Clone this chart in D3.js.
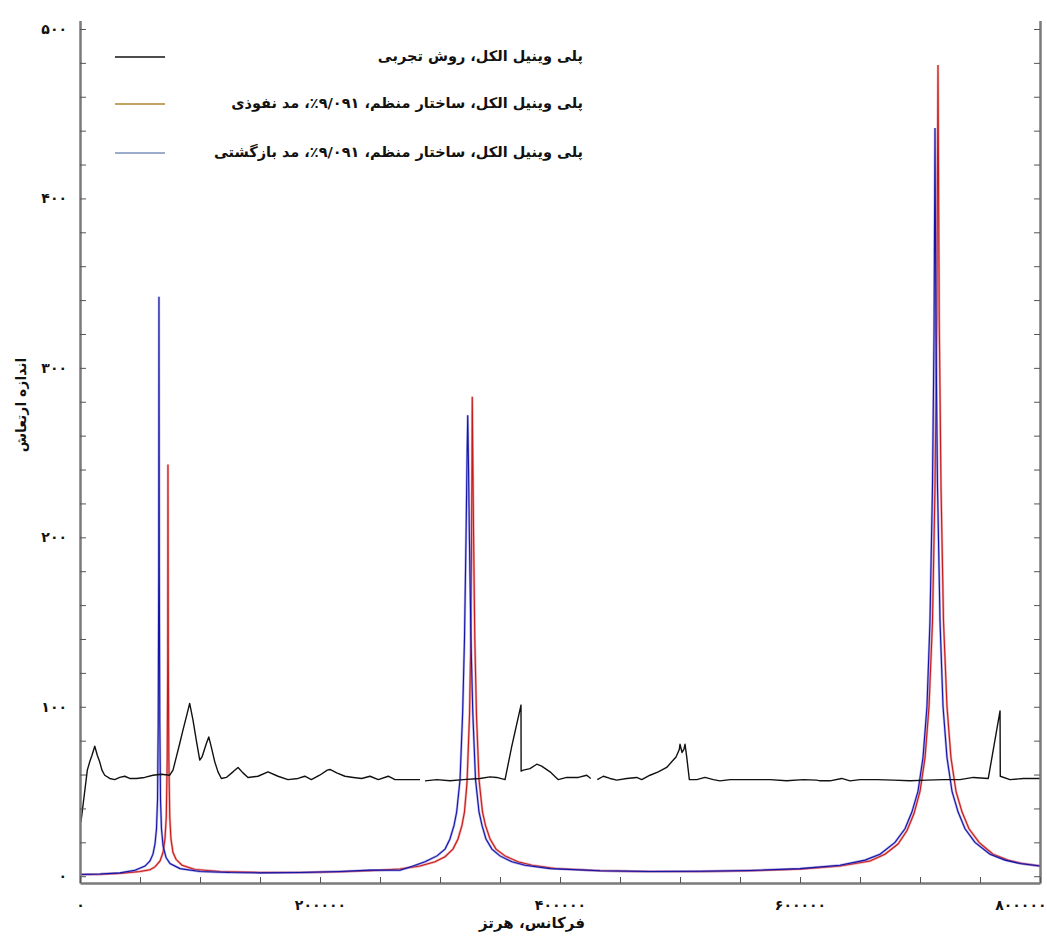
<!DOCTYPE html>
<html><head><meta charset="utf-8">
<script src="https://cdn.jsdelivr.net/npm/d3@7/dist/d3.min.js"></script>
<style>body{margin:0;background:#fff}svg{display:block}text{font-family:"DejaVu Sans",sans-serif;font-weight:bold}</style>
</head><body><svg id="c" width="1047" height="936"></svg>
<script>
// ---------- data ----------
const legendLabels = [
  "پلی وینیل الکل، روش تجربی",
  "پلی وینیل الکل، ساختار منظم، ۹/۰۹۱٪، مد نفوذی",
  "پلی وینیل الکل، ساختار منظم، ۹/۰۹۱٪، مد بازگشتی"
];
const xTitle = "فرکانس، هرتز";
const yTitle = "اندازه ارتعاش";
const xMajorTicks = [0, 200000, 400000, 600000, 800000];
const xTickLabels = ["۰", "۲۰۰۰۰۰", "۴۰۰۰۰۰", "۶۰۰۰۰۰", "۸۰۰۰۰۰"];
const yMajorTicks = [0, 100, 200, 300, 400, 500];
const yTickLabels = ["۰", "۱۰۰", "۲۰۰", "۳۰۰", "۴۰۰", "۵۰۰"];

// experimental (black) – null marks gaps
const expFreq = [800,6100,8100,10000,12300,14400,16400,18300,20600,24800,28900,33100,37300,41400,46900,53900,60800,67800,74800,77500,80300,83100,85800,88600,91400,94200,96900,99800,101700,105300,107300,109400,112300,115000,117800,121900,127500,131700,135800,140000,148300,156700,165000,173300,181700,187300,192800,199700,206100,208300,213900,220800,227800,234700,241700,248600,256900,262500,272300,283300,285000,287500,297300,308300,319400,333300,341700,347300,354200,359700,367500,367600,369400,375000,380600,384700,391700,398600,405600,415300,422300,425600,428000,431100,436100,441700,447300,455600,463900,468100,475000,481900,488900,493100,496700,499400,500000,501700,503300,504200,505600,507800,514000,520800,527800,533300,541700,561100,575000,588900,602800,613900,616700,625000,634700,641700,650000,663900,677800,691700,705600,719400,733300,744400,756900,766700,766900,775000,786100,800000];
const expVal = [32,62.6,67.5,71.4,76.7,71.4,67.5,62.6,59.6,57.7,57,58.3,59,57.7,57.7,58.3,59.6,60.2,59.6,62.6,70.4,78.3,86.2,94,102,92,80.3,68.5,70.4,78.3,82.2,76.3,67.5,61.6,57.7,58.3,61.6,64.2,61,58.3,59,61.6,59,57,57.7,59,57,59.6,62.6,63,61,59,58.3,57.7,59,57,59,57,57,57,null,56.3,57,56.3,57,57.7,58.6,58.3,57,76.3,101,62,62.6,63.5,66.1,65,61.6,57,58.3,58.3,59.6,57.7,null,57,59,57.7,56.7,57.7,58.3,57,59.6,61.6,64.2,67.5,70.4,74.8,77.9,73,75,77.9,70.4,57,57,58.3,57,56.3,57,57,57,56.3,57,56.7,56.3,56.3,57.7,56.3,57,57,56.7,56.3,56.7,57,57,58.3,57.7,97.6,59,57,57.7,57.7];

// ordered structure, penetrating mode (red)
const redFreq = [0,16700,33300,50000,58300,62500,66700,69200,70800,71900,72700,73100,73300,73600,74000,74800,75800,77500,80000,85000,95800,116700,150000,183300,216700,241700,266700,283300,295800,304200,310800,315000,318300,320400,322500,324600,325700,326300,326700,326900,327300,328000,329000,330400,332500,335400,337900,341700,346700,354200,365000,376700,395800,433300,475000,516700,558300,600000,633300,658300,670800,681700,689200,695000,700000,704200,707500,710400,712500,714000,715000,716000,717500,719600,722500,725800,730000,735000,740800,749200,760800,773300,785000,800000];
const redVal = [1.0,1.2,1.7,2.8,3.8,5.5,9,14,22,35,70,130,243,130,70,35,22,14,10,6.5,4,2.8,2.2,2.2,2.6,3.3,4.3,6,8.5,11.5,16,22,30,38,55,95,140,200,250,283,250,200,140,95,57,38,30,22,16,12,8.5,6.5,4.6,3.2,2.8,2.8,3.2,4.2,6,9,13,19,27,37,50,70,100,150,230,330,478.7,330,230,150,100,70,50,38,28,20,13,9.5,7.5,6];

// ordered structure, return mode (blue)
const blueFreq = [0,16700,33300,45800,54200,58300,60800,62500,63750,64600,65200,65600,65800,66100,66500,67100,67900,69200,71700,75000,83300,100000,125000,150000,183300,216700,241700,266700,277500,287500,297500,304200,308300,311700,313900,316700,318900,320400,321700,322500,323100,323700,324500,325800,327300,329600,332500,335000,338300,343300,350000,360000,370800,391700,433300,475000,516700,558300,600000,633300,654200,666700,679200,687500,693300,698300,702500,705800,708300,710400,711700,712500,713300,714600,716700,719200,722500,726700,731700,737500,745800,758300,770800,783300,800000];
const blueVal = [1.0,1.3,2.0,3.5,6,9,13,19,28,45,90,180,342,180,90,45,28,18,11,7.5,4.5,2.8,2.2,2.0,2.2,2.8,3.6,3.5,6,8.5,12,16,22,30,38,57,97,140,200,245,272,245,200,140,97,57,38,30,22,16,12,8.5,6.5,4.5,3.2,2.8,2.9,3.4,4.5,6.5,9.5,13,20,28,38,50,70,100,150,230,320,441.5,320,230,150,100,70,50,38,28,20,13,9.5,7.5,6];

// ---------- chart ----------
const svg = d3.select("#c");
svg.append("rect").attr("width",1047).attr("height",936).attr("fill","#fff");

const x = d3.scaleLinear().domain([0, 800000]).range([80, 1040]);
const y = d3.scaleLinear().domain([-4, 505]).range([883, 20.5]);

const xMinor = d3.range(0, 800001, 50000);
const yMinor = d3.range(0, 501, 20);

const g = svg.append("g");

// series
const line = d3.line().defined(d => d[1] !== null).x(d => x(d[0])).y(d => y(d[1]));
const zip = (a, b) => a.map((v, i) => [v, b[i]]);

g.append("path").datum(zip(redFreq, redVal)).attr("d", line)
  .attr("fill","none").attr("stroke","#e86060").attr("stroke-width",2.4).attr("opacity",0.55);
g.append("path").datum(zip(redFreq, redVal)).attr("d", line)
  .attr("fill","none").attr("stroke","#c41c1c").attr("stroke-width",1.1);
g.append("path").datum(zip(blueFreq, blueVal)).attr("d", line)
  .attr("fill","none").attr("stroke","#6a6ad8").attr("stroke-width",2.4).attr("opacity",0.5);
g.append("path").datum(zip(blueFreq, blueVal)).attr("d", line)
  .attr("fill","none").attr("stroke","#1414a8").attr("stroke-width",1.1);
g.append("path").datum(zip(expFreq, expVal)).attr("d", line)
  .attr("fill","none").attr("stroke","#111").attr("stroke-width",1.4).attr("stroke-linejoin","round");

// axes
const axisColor = "#7a7a7a";
const yAxis = d3.axisLeft(y).tickValues(yMinor).tickSizeInner(-6).tickSizeOuter(0).tickPadding(13)
  .tickFormat(d => { const i = yMajorTicks.indexOf(d); return i >= 0 ? yTickLabels[i] : ""; });
const yg = svg.append("g").attr("transform","translate(80,0)").call(yAxis);
const yAxisR = d3.axisRight(y).tickValues(yMinor).tickSizeInner(-6).tickSizeOuter(0).tickFormat("");
const ygr = svg.append("g").attr("transform","translate(1040,0)").call(yAxisR);
const xAxis = d3.axisBottom(x).tickValues(xMinor).tickSizeInner(-6).tickSizeOuter(0).tickPadding(17)
  .tickFormat(d => { const i = xMajorTicks.indexOf(d); return i >= 0 ? xTickLabels[i] : ""; });
const xg = svg.append("g").attr("transform","translate(0,883)").call(xAxis);

[yg, ygr, xg].forEach(a => {
  a.select(".domain").attr("stroke", axisColor).attr("stroke-width", 2.5);
  a.selectAll(".tick line").attr("stroke", "#555").attr("stroke-width", 1);
  a.selectAll("text").attr("font-size", 14).attr("fill", "#111")
    .style("font-family", '"DejaVu Sans",sans-serif').style("font-weight","bold");
});
// keep the last x label inside the page
xg.selectAll(".tick").filter(d => d === 800000).select("text")
  .attr("text-anchor","end").attr("x", 6);

// axis titles
svg.append("text").attr("transform","translate(22,405) rotate(-90)").attr("text-anchor","middle")
  .attr("dominant-baseline","middle").attr("font-size",14).attr("fill","#111").text(yTitle);
svg.append("text").attr("x",532).attr("y",923).attr("text-anchor","middle")
  .attr("dominant-baseline","middle").attr("font-size",15).attr("fill","#111").text(xTitle);

// legend
const legendColors = ["#111", "#b08430", "#7d90b8"];
const legendY = [57, 104, 153];
legendLabels.forEach((t, i) => {
  svg.append("line").attr("x1",115).attr("x2",165).attr("y1",legendY[i]).attr("y2",legendY[i])
    .attr("stroke", legendColors[i]).attr("stroke-width",1.5);
  svg.append("text").attr("x",583).attr("y",legendY[i]).attr("text-anchor","start")
    .attr("direction","rtl").attr("dominant-baseline","middle").attr("font-size",14.5).attr("fill","#111").text(t);
});
</script></body></html>
